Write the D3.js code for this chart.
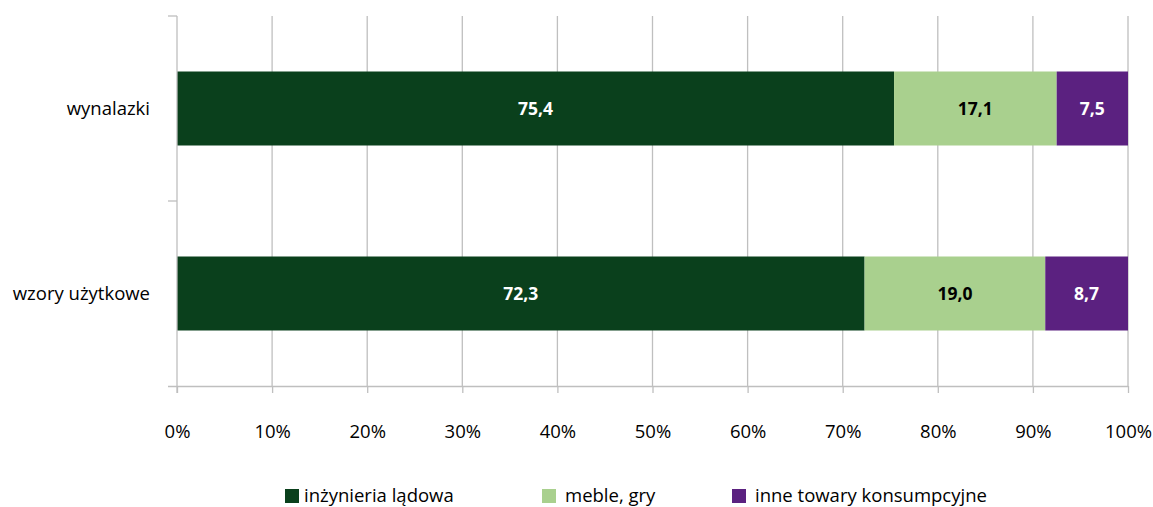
<!DOCTYPE html>
<html>
<head>
<meta charset="utf-8">
<script src="https://cdn.jsdelivr.net/npm/d3@7/dist/d3.min.js"></script>
<style>
  html, body { margin: 0; padding: 0; background: #fff; }
  svg { display: block; font-family: "Open Sans", "Liberation Sans", sans-serif; }
</style>
</head>
<body>
<svg id="chart" width="1153" height="507"></svg>
<script>
// Share of each field (in %) for the two categories
const categories = ["wynalazki", "wzory użytkowe"];
const seriesNames = ["inżynieria lądowa", "meble, gry", "inne towary konsumpcyjne"];
const civilEngineering = [75.4, 72.3];
const furnitureGames = [17.1, 19.0];
const otherConsumerGoods = [7.5, 8.7];
const tickValues = [0, 0.1, 0.2, 0.3, 0.4, 0.5, 0.6, 0.7, 0.8, 0.9, 1.0];

const colors = ["#0A401C", "#A9D08E", "#5B2180"];
const labelColors = ["#ffffff", "#000000", "#ffffff"];
const fontSize = 18.5;

const rows = categories.map((c, i) => ({
  category: c,
  "inżynieria lądowa": civilEngineering[i],
  "meble, gry": furnitureGames[i],
  "inne towary konsumpcyjne": otherConsumerGoods[i]
}));

const svg = d3.select("#chart");
const plotLeft = 177, plotRight = 1128, plotTop = 16, plotBottom = 386;

const x = d3.scaleLinear().domain([0, 1]).range([plotLeft, plotRight]);
const y = d3.scaleBand().domain(categories).range([plotTop, plotBottom]).paddingInner(0.6).paddingOuter(0.3);
const band = d3.scaleBand().domain(categories).range([plotTop, plotBottom]);

// vertical gridlines
svg.append("g")
  .selectAll("line")
  .data(tickValues.slice(1))
  .join("line")
  .attr("x1", d => x(d)).attr("x2", d => x(d))
  .attr("y1", plotTop).attr("y2", plotBottom)
  .attr("stroke", "#BFBFBF").attr("stroke-width", 1.3);

// stacked bars (percent stacking)
const stack = d3.stack().keys(seriesNames).offset(d3.stackOffsetExpand);
const layers = stack(rows);

const g = svg.append("g");
layers.forEach((layer, li) => {
  g.selectAll(null)
    .data(layer)
    .join("rect")
    .attr("x", d => x(d[0]))
    .attr("width", d => x(d[1]) - x(d[0]))
    .attr("y", d => y(d.data.category))
    .attr("height", y.bandwidth())
    .attr("fill", colors[li]);
  g.selectAll(null)
    .data(layer)
    .join("text")
    .attr("x", d => (x(d[0]) + x(d[1])) / 2)
    .attr("y", d => y(d.data.category) + y.bandwidth() / 2)
    .attr("dy", "0.35em")
    .attr("text-anchor", "middle")
    .attr("font-size", 17.5)
    .attr("font-weight", "bold")
    .attr("fill", labelColors[li])
    .text(d => d3.format(".1f")(d.data[seriesNames[li]]).replace(".", ","));
});

// x axis
const xAxis = d3.axisBottom(x)
  .tickValues(tickValues)
  .tickFormat(d => Math.round(d * 100) + "%")
  .tickSize(7)
  .tickPadding(32);
const xa = svg.append("g").attr("transform", `translate(0,${plotBottom})`).call(xAxis);
xa.select(".domain").attr("stroke", "#BFBFBF").attr("stroke-width", 1.3).attr("d", `M${plotLeft - 9},0.5H${plotRight}`);
xa.selectAll(".tick line").attr("stroke", "#BFBFBF").attr("stroke-width", 1.3);
xa.selectAll(".tick text").attr("font-size", fontSize).attr("fill", "#000").attr("font-family", "'Open Sans', sans-serif");

// y axis line with category boundary ticks
svg.append("line")
  .attr("x1", plotLeft).attr("x2", plotLeft).attr("y1", plotTop).attr("y2", plotBottom + 7)
  .attr("stroke", "#BFBFBF").attr("stroke-width", 1.3);
const bounds = [band(categories[0]), band(categories[1])];
svg.append("g").selectAll("line")
  .data(bounds)
  .join("line")
  .attr("x1", plotLeft - 9).attr("x2", plotLeft)
  .attr("y1", d => d).attr("y2", d => d)
  .attr("stroke", "#BFBFBF").attr("stroke-width", 1.3);

// category labels
svg.append("g").selectAll("text")
  .data(categories)
  .join("text")
  .attr("x", 150)
  .attr("y", d => y(d) + y.bandwidth() / 2)
  .attr("dy", "0.35em")
  .attr("text-anchor", "end")
  .attr("font-size", fontSize)
  .attr("fill", "#000")
  .text(d => d);

// legend
const legendX = [285, 542, 732];
const legend = svg.append("g");
seriesNames.forEach((name, i) => {
  legend.append("rect")
    .attr("x", legendX[i]).attr("y", 489)
    .attr("width", 14).attr("height", 14)
    .attr("fill", colors[i]);
  legend.append("text")
    .attr("x", legendX[i] + (i === 0 ? 19 : 23))
    .attr("y", 496)
    .attr("dy", "0.35em")
    .attr("font-size", fontSize)
    .attr("fill", "#000")
    .text(name);
});
</script>
</body>
</html>
